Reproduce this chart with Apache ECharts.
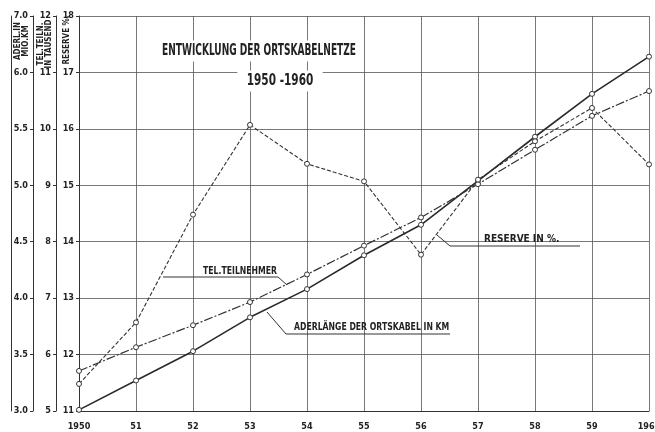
<!DOCTYPE html>
<html>
<head>
<meta charset="utf-8">
<script src="https://cdn.jsdelivr.net/npm/echarts@6/dist/echarts.min.js"></script>
<style>
html, body { margin: 0; padding: 0; background: #fff; }
#main { width: 655px; height: 432px; }
</style>
</head>
<body>
<div id="main"></div>
<script>
// Jahre (x-Achse)
var years = ['1950', '51', '52', '53', '54', '55', '56', '57', '58', '59', '1960'];
// Aderlänge der Ortskabel in Mio. km
var aderlaenge = [3.01, 3.27, 3.53, 3.83, 4.08, 4.38, 4.65, 5.04, 5.43, 5.81, 6.14];
// Tel. Teilnehmer in Tausend
var teilnehmer = [5.71, 6.13, 6.52, 6.93, 7.42, 7.93, 8.43, 9.02, 9.63, 10.23, 10.67];
// Reserve in %
var reserve = [11.48, 12.57, 14.48, 16.07, 15.38, 15.07, 13.77, 15.10, 15.78, 16.37, 15.37];
// die oberste Marke der Aderlänge-Skala ist im Original mit 7.0 beschriftet
var aderTopLabel = '7.0';

var font = '"DejaVu Sans Condensed", "Liberation Sans Narrow", sans-serif';
var ink = '#222';

var myChart = echarts.init(document.getElementById('main'));

function yAx(min, max, step, offset, fmt) {
    return {
        type: 'value',
        position: 'left',
        offset: offset,
        min: min,
        max: max,
        interval: step,
        axisLine: { show: true, lineStyle: { color: '#333', width: 1 } },
        axisTick: { show: true, length: 3, lineStyle: { color: '#333' } },
        axisLabel: {
            color: ink, fontFamily: font, fontWeight: 'bold', fontSize: 9, margin: 5,
            formatter: fmt
        },
        splitLine: { show: false }
    };
}

var yReserve = yAx(11, 18, 1, 0);
yReserve.splitLine = { show: true, lineStyle: { color: '#555', width: 0.8 } };
var yTel = yAx(5, 12, 1, 23);
var yAder = yAx(3, 6.5, 0.5, 46, function (v) {
    return v >= 6.5 ? aderTopLabel : v.toFixed(1);
});
var yFrame = {
    type: 'value', position: 'left', offset: 68, min: 0, max: 1,
    axisLine: { show: true, lineStyle: { color: '#333', width: 1 } },
    axisTick: { show: false }, axisLabel: { show: false }, splitLine: { show: false }
};

function txt(x, y, s, size, sx, opts) {
    var st = { text: s, fill: ink, font: 'bold ' + size + 'px ' + font, align: 'left', verticalAlign: 'middle' };
    for (var k in opts) st[k] = opts[k];
    return { type: 'text', x: x, y: y, scaleX: sx, z: 50, style: st };
}
function line(pts) {
    return { type: 'polyline', z: 50, shape: { points: pts }, style: { stroke: '#333', lineWidth: 1, fill: null } };
}
function vtxt(x, y, s) {
    return { type: 'text', x: x, y: y, rotation: Math.PI / 2, z: 50,
        style: { text: s, fill: ink, font: 'bold 8px ' + font, align: 'center', verticalAlign: 'middle', lineHeight: 8 } };
}

var option = {
    backgroundColor: '#fff',
    animation: false,
    grid: { left: 79, right: 6, top: 16, bottom: 21, outerBoundsMode: 'none' },
    xAxis: {
        type: 'category',
        data: years,
        boundaryGap: false,
        axisLine: { lineStyle: { color: '#333', width: 1 } },
        axisTick: { show: false },
        axisLabel: { color: ink, fontFamily: font, fontWeight: 'bold', fontSize: 9, margin: 11 },
        splitLine: { show: true, lineStyle: { color: '#555', width: 0.8 } }
    },
    yAxis: [yReserve, yTel, yAder, yFrame],
    series: [
        {
            name: 'ADERLÄNGE DER ORTSKABEL IN KM', type: 'line', yAxisIndex: 2, data: aderlaenge,
            symbol: 'circle', symbolSize: 5,
            itemStyle: { color: '#fff', borderColor: '#333', borderWidth: 1 },
            lineStyle: { color: '#2a2a2a', width: 1.6, type: 'solid' }
        },
        {
            name: 'TEL.TEILNEHMER', type: 'line', yAxisIndex: 1, data: teilnehmer,
            symbol: 'circle', symbolSize: 5,
            itemStyle: { color: '#fff', borderColor: '#333', borderWidth: 1 },
            lineStyle: { color: '#333', width: 1.2, type: [9, 2, 2, 2] }
        },
        {
            name: 'RESERVE IN %', type: 'line', yAxisIndex: 0, data: reserve,
            symbol: 'circle', symbolSize: 5,
            itemStyle: { color: '#fff', borderColor: '#333', borderWidth: 1 },
            lineStyle: { color: '#333', width: 1.1, type: [4, 2] }
        }
    ],
    graphic: [
        // Titel
        txt(259, 51, 'ENTWICKLUNG DER ORTSKABELNETZE', 15, 0.67, {
            align: 'center', backgroundColor: '#fff', padding: [3, 10]
        }),
        txt(280, 81, '1950 -1960', 15, 0.78, {
            align: 'center', backgroundColor: '#fff', padding: [3, 12]
        }),
        // Achsentitel
        vtxt(22, 41, 'ADERL.IN\nMIO.KM'),
        vtxt(45, 44, 'TEL.TEILN.\nIN TAUSEND'),
        vtxt(67, 40, 'RESERVE %.'),
        // Beschriftungen der Kurven
        txt(203, 271, 'TEL.TEILNEHMER', 10, 0.86, {}),
        line([[163, 277], [278, 277], [287, 285]]),
        txt(294, 327, 'ADERLÄNGE DER ORTSKABEL IN KM', 10, 0.86, {}),
        line([[267, 312], [286, 334], [450, 334]]),
        txt(484, 239, 'RESERVE IN %.', 10, 1, {}),
        line([[437, 235], [450, 246], [580, 246]])
    ]
};
myChart.setOption(option);
</script>
</body>
</html>
